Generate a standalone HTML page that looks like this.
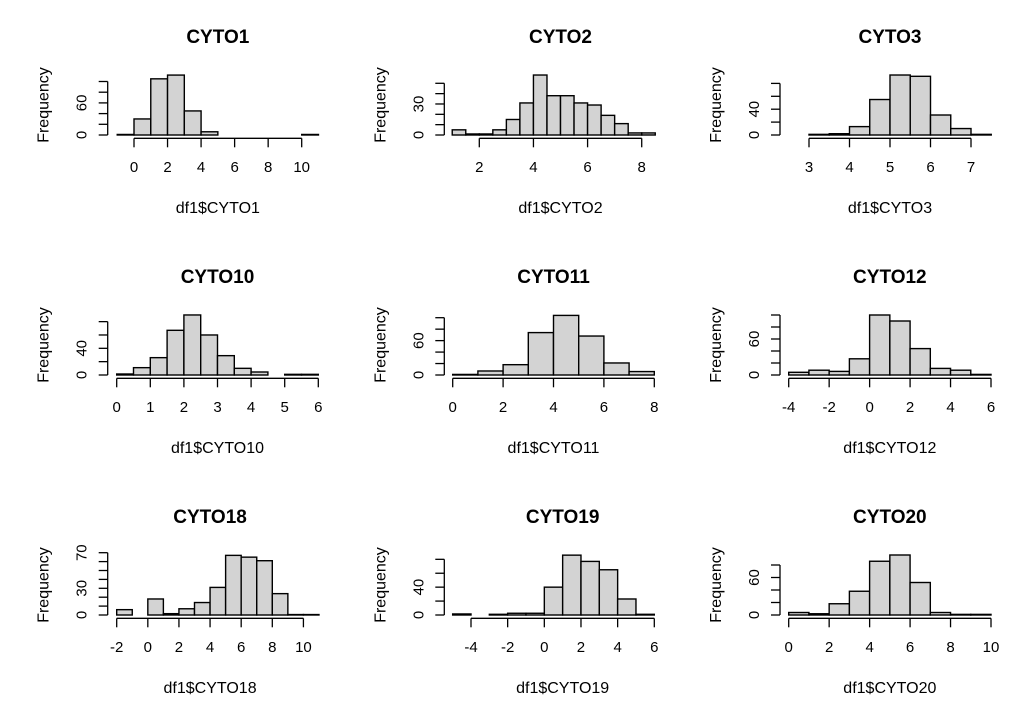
<!DOCTYPE html>
<html><head><meta charset="utf-8">
<style>
body{margin:0;background:#fff;}
svg{display:block;font-family:"Liberation Sans",Arial,sans-serif;}
</style></head>
<body>
<svg id="chart" width="1016" height="711" viewBox="0 0 1016 711" xmlns="http://www.w3.org/2000/svg"></svg>
<script>
// ---- data ----
const titles = ["CYTO1","CYTO2","CYTO3","CYTO10","CYTO11","CYTO12","CYTO18","CYTO19","CYTO20"];
const binStarts = [-1, 1, 2.5, 0, 0, -4, -2, -5, 0];
const binWidths = [1, 0.5, 0.5, 0.5, 1, 1, 1, 1, 1];
const counts1  = [1,30,105,112,45,6,0,0,0,0,0,1];
const counts2  = [5,1,1,5,15,31,58,38,38,31,29,19,11,2,2];
const counts3  = [0,1,2,13,55,93,91,31,10,1];
const counts10 = [1.5,11,26,67,90,60,29,10,4.5,0,1,1];
const counts11 = [1,7,18,74,104,68,21,6];
const counts12 = [4.5,8,6,27,100,90,44,11,8,1];
const counts18 = [6,0,18,1.5,7,14,31,67,65,61,24,0.5,0.5];
const counts19 = [1.5,0,1,2.5,2.5,40,86,77,65,23,1];
const counts20 = [4,2,18,38,86,96,52,4,1,1];
const allCounts = [counts1,counts2,counts3,counts10,counts11,counts12,counts18,counts19,counts20];
const xTicks = [[0,2,4,6,8,10],[2,4,6,8],[3,4,5,6,7],[0,1,2,3,4,5,6],[0,2,4,6,8],[-4,-2,0,2,4,6],[-2,0,2,4,6,8,10],[-4,-2,0,2,4,6],[0,2,4,6,8,10]];
const yTickMax = [100,50,80,80,100,100,70,80,80];
const yTickStep = [20,10,20,20,20,20,10,20,20];
const yTickLabels = [[0,60],[0,30],[0,40],[0,40],[0,60],[0,60],[0,30,70],[0,40],[0,60]];
// ---- layout (pixels) ----
const xRef = [[0,134],[2,479.3],[3,809],[0,116.7],[0,452.7],[-4,788.7],[-2,116.7],[-4,471],[0,788.7]];
const xPxPerUnit = [16.77,27.07,40.5,33.6,25.2,20.23,15.56,18.33,20.23];
const yPxPerUnit = [0.535,1.034,0.645,0.667,0.573,0.6,0.89,0.696,0.625];
const axisX = [107.7,444.3,780];
const zeroY = [135,375,615];

const NS="http://www.w3.org/2000/svg";
const svg=document.getElementById('chart');
function mk(tag,attrs,parent){const e=document.createElementNS(NS,tag);for(const k in attrs)e.setAttribute(k,attrs[k]);(parent||svg).appendChild(e);return e;}

titles.forEach((t,i)=>{
  const r=Math.floor(i/3), c=i%3;
  const y0=zeroY[r], ax=axisX[c];
  const xs=v=>xRef[i][1]+(v-xRef[i][0])*xPxPerUnit[i];
  const ys=v=>y0-v*yPxPerUnit[i];
  const g=mk('g',{});
  
  
  const xt=xTicks[i];
  const midX=xs(xt[0])+(xs(xt[xt.length-1])-xs(xt[0]))/2;
  // title
  const tt=mk('text',{x:midX,y:y0-92,'text-anchor':'middle','font-size':'19','font-weight':'bold',fill:'#000'},g);
  tt.textContent=t;
  
  
  // bars
  allCounts[i].forEach((v,k)=>{
    const a=binStarts[i]+k*binWidths[i], b=a+binWidths[i];
    const rc=mk('rect',{x:xs(a),y:ys(v),width:xs(b)-xs(a),height:y0-ys(v),fill:'#d3d3d3',stroke:'#000','stroke-width':'1.4'},g);
    
    
  });
  // y axis
  const ya=mk('g',{},g);
  
  
  mk('line',{x1:ax,x2:ax,y1:y0,y2:ys(yTickMax[i]),stroke:'#000','stroke-width':'1.3'},ya);
  for(let v=0;v<=yTickMax[i]+1e-9;v+=yTickStep[i]){
    mk('line',{x1:ax-9,x2:ax,y1:ys(v),y2:ys(v),stroke:'#000','stroke-width':'1.3'},ya);
  }
  yTickLabels[i].forEach(v=>{
    const tx=mk('text',{x:0,y:0,transform:`translate(${ax-21},${ys(v)}) rotate(-90)`,'text-anchor':'middle','font-size':'15',fill:'#000'},ya);
    tx.textContent=v;
    
    
  });
  const yl=mk('text',{x:0,y:0,transform:`translate(${ax-59},${y0-30}) rotate(-90)`,'text-anchor':'middle','font-size':'16',fill:'#000'},ya);
  yl.textContent='Frequency';
  
  
  // x axis
  const xa=mk('g',{},g);
  
  
  const axY=y0+3.3;
  mk('line',{x1:xs(xt[0]),x2:xs(xt[xt.length-1]),y1:axY,y2:axY,stroke:'#000','stroke-width':'1.3'},xa);
  xt.forEach(v=>{
    mk('line',{x1:xs(v),x2:xs(v),y1:axY,y2:axY+9,stroke:'#000','stroke-width':'1.3'},xa);
    const tx=mk('text',{x:xs(v),y:y0+37,'text-anchor':'middle','font-size':'15',fill:'#000'},xa);
    tx.textContent=v;
    
    
  });
  const xl=mk('text',{x:midX,y:y0+78,'text-anchor':'middle','font-size':'16',fill:'#000'},xa);
  xl.textContent='df1$'+t;
  
  
});
</script>
</body></html>
